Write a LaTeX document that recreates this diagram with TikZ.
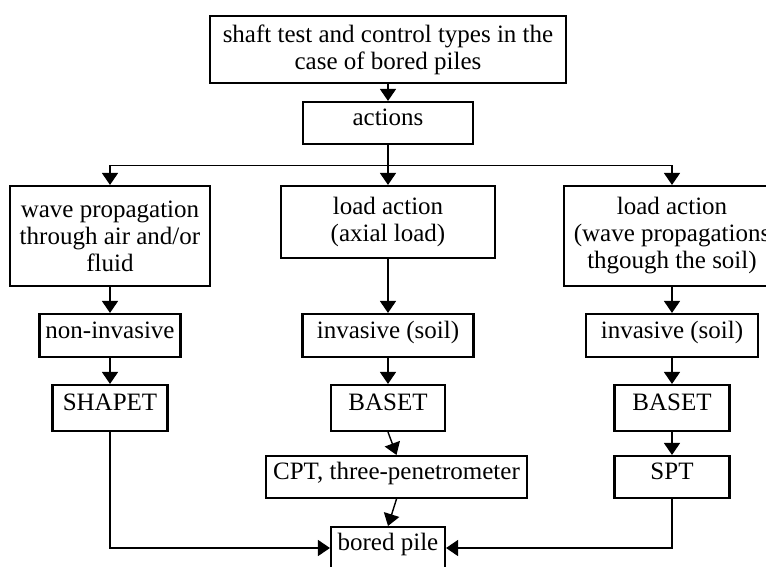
\documentclass[tikz,border=0pt]{standalone}
\usepackage{fontspec}
\setmainfont{Liberation Serif}
\usetikzlibrary{arrows.meta}
\begin{document}
\begin{tikzpicture}[x=1pt,y=-1pt,
  box/.style={draw, line width=2.1pt, inner sep=0pt, align=center,
    font=\fontsize{25}{27}\selectfont},
  onebox/.style={box, text height=16pt, text depth=11pt},
  link/.style={line width=1.4pt},
  arr/.style={link, -{Triangle[width=16pt,length=12pt]}}
]
\path[use as bounding box, clip] (0,0) rectangle (766,566);

% title and first level
\node[box, minimum width=356pt, minimum height=67pt] (top) at (388,49.5)
  {shaft test and control types in the\\case of bored piles};
\node[onebox, minimum width=170pt, minimum height=42pt] (act) at (388,123) {actions};

% three action branches
\node[box, minimum width=200pt, minimum height=100pt] (wave) at (110,236)
  {wave propagation\\through air and/or\\fluid};
\node[box, minimum width=214pt, minimum height=72pt] (axial) at (388,222)
  {load action\\(axial load)};
\node[box, minimum width=216pt, minimum height=100pt] (soil) at (672,236)
  {load action\\(wave propagations\\thgough the soil)};

% invasiveness
\node[onebox, minimum width=141pt, minimum height=43pt] (noninv) at (110,335.5) {non-invasive};
\node[onebox, minimum width=171pt, minimum height=43pt] (inva) at (388,335.5) {invasive (soil)};
\node[onebox, minimum width=172pt, minimum height=43pt] (invb) at (672,335.5) {invasive (soil)};

% methods
\node[onebox, minimum width=115pt, minimum height=46pt] (shapet) at (110,408) {SHAPET};
\node[onebox, minimum width=114pt, minimum height=46pt] (baseta) at (388,408) {BASET};
\node[onebox, minimum width=115pt, minimum height=46pt] (basetb) at (672,408) {BASET};
\node[onebox, minimum width=261pt, minimum height=42pt] (cpt) at (396.5,477) {CPT, three-penetrometer};
\node[onebox, minimum width=115pt, minimum height=42pt] (spt) at (672,477) {SPT};

% target
\node[onebox, minimum width=114pt, minimum height=42pt] (bored) at (388,548) {bored pile};

% connectors
\coordinate (split) at (388,165);
\draw[arr] (top) -- (act);
\draw[link] (act) -- (split);
\draw[line width=0.9pt] (split -| wave.north) -- (split -| soil.north);
\draw[arr] (split) -- (axial);
\draw[arr] (split -| wave.north) -- (wave.north);
\draw[arr] (split -| soil.north) -- (soil.north);

\draw[arr] (wave) -- (noninv);
\draw[arr] (axial) -- (inva);
\draw[arr] (soil) -- (invb);

\draw[arr] (noninv) -- (shapet);
\draw[arr] (inva) -- (baseta);
\draw[arr] (invb) -- (basetb);

\draw[arr] (baseta.south) -- (cpt.north);
\draw[arr] (basetb) -- (spt);
\draw[arr] (cpt.south) -- (bored.north);

\draw[arr] (shapet) |- (bored.west);
\draw[arr] (spt) |- (bored.east);
\end{tikzpicture}
\end{document}
